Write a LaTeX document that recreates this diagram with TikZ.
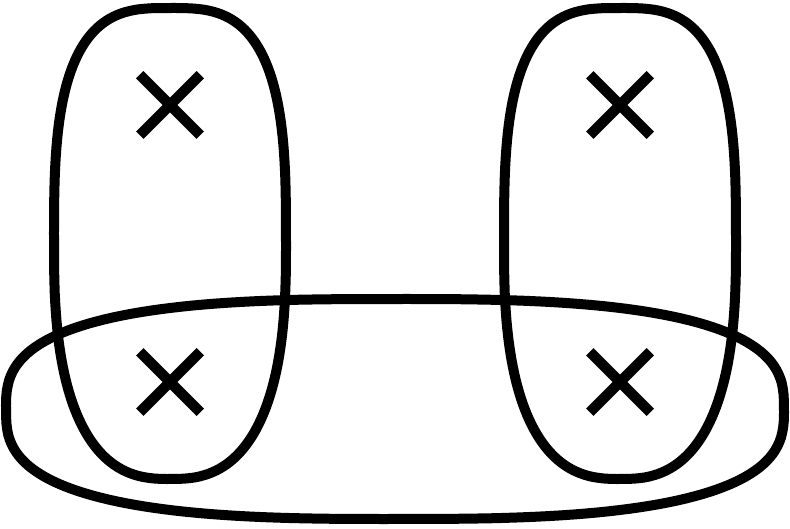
\documentclass[tikz,border=0pt]{standalone}
\usetikzlibrary{shapes.misc}

\begin{document}
\begin{tikzpicture}
[x=1pt,y=-1pt,oval/.style = {draw, line width = 10pt, line join = round},
cross/.style = {draw, cross out, line width = 10.5pt, minimum size = 50pt, inner sep = 0pt},]
\useasboundingbox (0,0) rectangle (790,529);
\node (LU) at (170,105)[cross] {};
\node (RU) at (620,105)[cross] {};
\node (LD) at (170,382)[cross] {};
\node (RD) at (620,382)[cross] {};
% vertical ovals: flatter top, rounder bottom
\draw[oval] plot[domain=0.5:358.5,samples=180]
  ({170+116*sign(cos(\x))*pow(abs(cos(\x)),(sin(\x)>0 ? 0.77 : 0.65))},{243.5+235.5*sign(sin(\x))*pow(abs(sin(\x)),(sin(\x)>0 ? 0.77 : 0.65))}) -- cycle;
\draw[oval] plot[domain=0.5:358.5,samples=180]
  ({620+116*sign(cos(\x))*pow(abs(cos(\x)),(sin(\x)>0 ? 0.77 : 0.65))},{243.5+235.5*sign(sin(\x))*pow(abs(sin(\x)),(sin(\x)>0 ? 0.77 : 0.65))}) -- cycle;
\draw[oval] plot[domain=0.5:358.5,samples=180]
  ({395+389*sign(cos(\x))*pow(abs(cos(\x)),0.71)},{409+110*sign(sin(\x))*pow(abs(sin(\x)),0.71)}) -- cycle;
\end{tikzpicture}
\end{document}
